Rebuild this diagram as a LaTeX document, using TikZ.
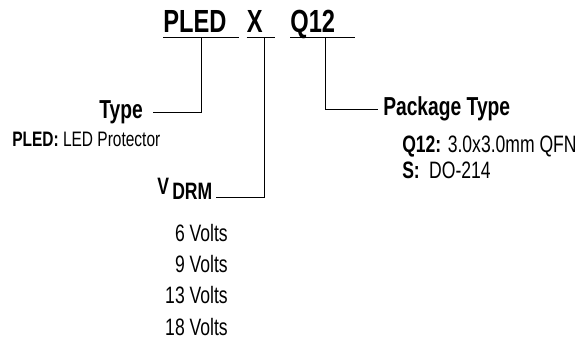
\documentclass[tikz,border=0pt]{standalone}
\usepackage{fontspec}
\setmainfont[FakeStretch=0.74]{Liberation Sans}
\usetikzlibrary{positioning}
\tikzset{
  code/.style  = {inner sep=0pt, font=\fontsize{24}{28}\selectfont\bfseries},
  field/.style = {inner sep=0pt, font=\fontsize{19.5}{23}\selectfont\bfseries},
  opt/.style   = {inner sep=0pt, font=\fontsize{17.8}{21}\selectfont},
  rule/.style  = {line width=0.9pt, draw=black},
  lead/.style  = {line width=0.75pt, draw=black},
}

\begin{document}
\begin{tikzpicture}[x=0.75pt, y=-0.75pt]
  \useasboundingbox (0,0) rectangle (587,341);

  % part number fields
  \node[code, anchor=base west, text width=56.25pt] (cpled) at (163,33) {PLED};
  \node[code, base right=6pt of cpled, text width=21pt] (cx) {X};
  \node[code, base right=11.25pt of cx, text width=48pt] (cq) {Q12};
  \draw[rule] ([yshift=-3.4pt]cpled.base west) -- ([yshift=-3.4pt]cpled.base east);
  \draw[rule] ([yshift=-3.4pt]cx.base west) -- ([yshift=-3.4pt]cx.base east);
  \draw[rule] ([yshift=-3.4pt]cq.base west) -- ([yshift=-3.4pt]cq.base east);

  % type
  \node[field, anchor=base east] (type) at (143,119) {Type};
  \node[opt, anchor=base west, font=\fontsize{15.7}{19}\selectfont] (typeval) at (12,147)
    {\textbf{PLED:} LED Protector};

  % voltage
  \node[field, anchor=base west, font=\fontsize{17.8}{21}\selectfont\bfseries] (vdrm) at (157,195)
    {V\hspace{2.5pt}\raisebox{-3.75pt}{DRM}};
  \node[opt, anchor=base east] (v6)  at (228,242) {6 Volts};
  \node[opt, anchor=base east] (v9)  at (228,273) {9 Volts};
  \node[opt, anchor=base east] (v13) at (228,304) {13 Volts};
  \node[opt, anchor=base east] (v18) at (228,336) {18 Volts};

  % package
  \node[field, anchor=base west] (pkg) at (383,116) {Package Type};
  \node[opt, anchor=base west] (pkgq) at (402,153) {\textbf{Q12:} 3.0x3.0mm QFN};
  \node[opt, anchor=base west] (pkgs) at (402,179) {\textbf{S:}\hspace{7pt}DO-214};

  % leaders
  \draw[lead] ([xshift=0.4pt,yshift=-3.4pt]cpled.base) |- ([xshift=7.5pt]type.east);
  \draw[lead] ([xshift=3pt,yshift=-3.4pt]cx.base) |- ([xshift=2.5pt,yshift=-2.25pt]vdrm.base east);
  \draw[lead] ([xshift=2.25pt,yshift=-3.4pt]cq.base) |- ([xshift=-3.75pt]pkg.west);
\end{tikzpicture}
\end{document}
